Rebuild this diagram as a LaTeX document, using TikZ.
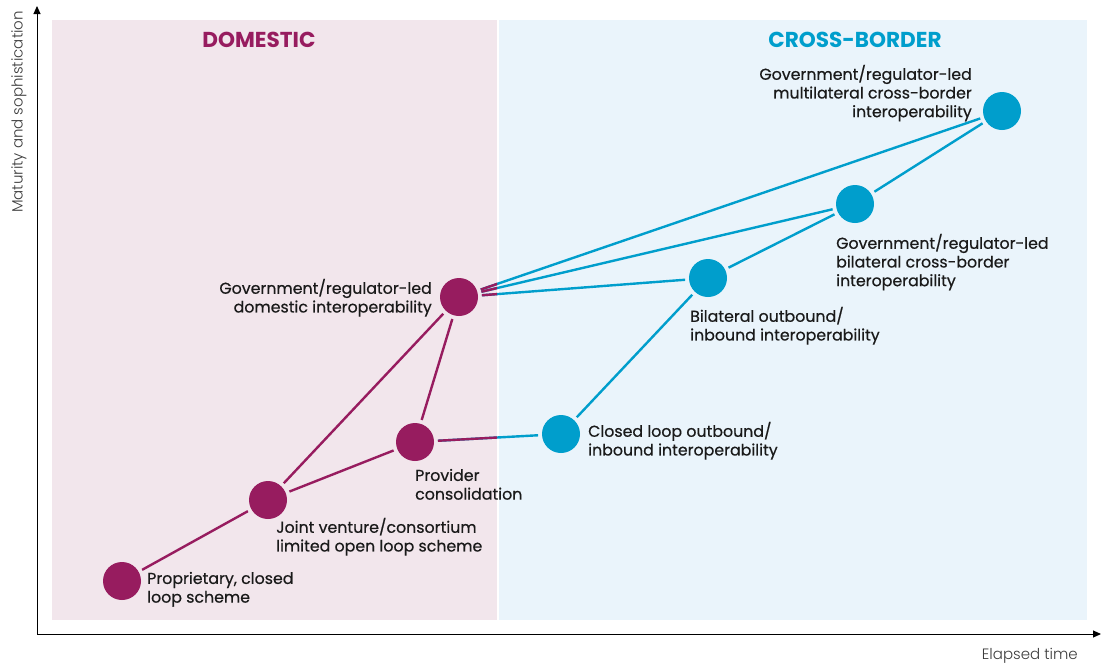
\documentclass[tikz,border=0pt]{standalone}
\usepackage{fontspec}
\setmainfont{Poppins}
\newfontfamily\lblfont[FakeBold=0.5]{Poppins}
\newfontfamily\axfont{Poppins Light}
\usetikzlibrary{arrows.meta}
\definecolor{mag}{HTML}{971C5F}
\definecolor{cyb}{HTML}{009ECC}
\definecolor{magbg}{HTML}{F2E6EC}
\definecolor{cybg}{HTML}{EAF4FB}
\definecolor{txt}{HTML}{1A1A1A}
\tikzset{
  dot/.style={circle, minimum size=38pt, inner sep=0pt, outer sep=4pt},
  mdot/.style={dot, fill=mag},
  cdot/.style={dot, fill=cyb},
  lbl/.style={inner sep=0pt, text=txt, font=\lblfont\fontsize{15.8}{18.7}\selectfont,
    execute at begin node={\rule{0pt}{14pt}}},
  lbll/.style={lbl, align=left, anchor=north west},
  lblr/.style={lbl, align=right, anchor=north east},
  mline/.style={draw=mag, line width=2.4pt},
  cline/.style={draw=cyb, line width=2.4pt},
  axis/.style={draw=black, line width=1pt, -{Triangle[width=7pt,length=8pt]}},
  head/.style={inner sep=0pt, font=\fontsize{21.6}{24}\selectfont\bfseries},
  axlbl/.style={inner sep=0pt, text=txt!85, font=\axfont\fontsize{15}{17}\selectfont}
}
\begin{document}
\begin{tikzpicture}[x=1pt,y=-1pt]
\useasboundingbox (0,0) rectangle (1105,665);
% backgrounds
\fill[magbg] (52,20) rectangle (497,620);
\fill[cybg] (499,20) rectangle (1087,620);
% axes
\coordinate (O) at (37,634);
\coordinate (Ytop) at (37,6);
\coordinate (Xend) at (1101,634);
\draw[axis] (O) -- (Ytop);
\draw[axis] (O) -- (Xend);
\node[axlbl, rotate=90] (ylab) at (19,112) {Maturity and sophistication};
\node[axlbl, anchor=east] (xlab) at (1078,656) {Elapsed time};
% headings
\node[head, text=mag] (dom) at (259,40) {DOMESTIC};
\node[head, text=cyb] (cb) at (855,40) {CROSS-BORDER};
% nodes
\node[mdot] (p) at (122,581) {};
\node[mdot] (jv) at (268,500) {};
\node[mdot] (pc) at (415,442) {};
\node[mdot] (gd) at (459,297) {};
\node[cdot] (cl) at (561,434) {};
\node[cdot] (bi) at (708,278) {};
\node[cdot] (gb) at (855,204) {};
\node[cdot] (ml) at (1002,111) {};
% domestic edges
\draw[mline] (p) -- (jv);
\draw[mline] (jv) -- (gd);
\draw[mline] (jv) -- (pc);
\draw[mline] (pc) -- (gd);
% cross edges
\draw[cline] (pc) -- (cl);
\draw[cline] (gd) -- (bi);
\draw[cline] (gd) -- (gb);
\draw[cline] (gd) -- (ml);
\begin{scope}
\clip (52,20) rectangle (497,620);
\draw[mline] (pc) -- (cl);
\draw[mline] (gd) -- (bi);
\draw[mline] (gd) -- (gb);
\draw[mline] (gd) -- (ml);
\end{scope}
\draw[cline] (cl) -- (bi);
\draw[cline] (bi) -- (gb);
\draw[cline] (gb) -- (ml);
% labels
\node[lbll] (tp) at (147,571.7) {Proprietary, closed\\loop scheme};
\node[lbll] (tjv) at (276,517.7) {Joint venture/consortium\\limited open loop scheme};
\node[lbll] (tpc) at (415,468.7) {Provider\\consolidation};
\node[lblr] (tgd) at (432,278.7) {Government/regulator-led\\domestic interoperability};
\node[lbll] (tcl) at (588,421.7) {Closed loop outbound/\\inbound interoperability};
\node[lbll] (tbi) at (690,306.7) {Bilateral outbound/\\inbound interoperability};
\node[lbll] (tgb) at (836,233.7) {Government/regulator-led\\bilateral cross-border\\interoperability};
\node[lblr] (tml) at (972,64.7) {Government/regulator-led\\multilateral cross-border\\interoperability};
\end{tikzpicture}
\end{document}
